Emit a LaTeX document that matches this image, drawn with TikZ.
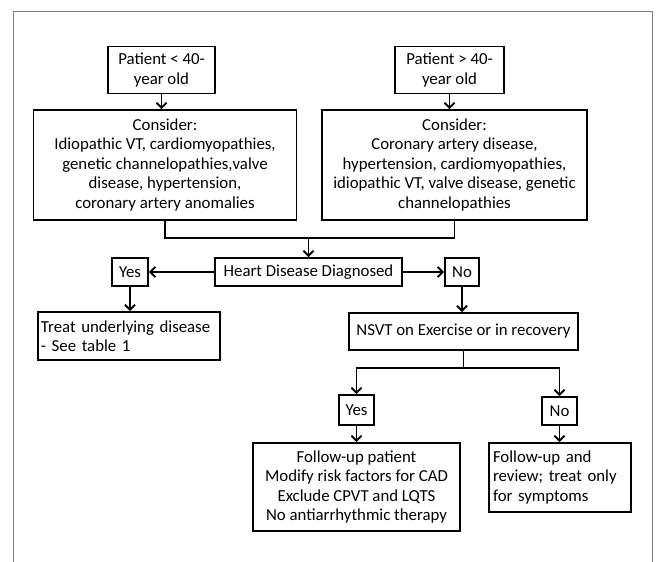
\documentclass[tikz,border=0pt]{standalone}
\usepackage{fontspec}
\setmainfont{Carlito}
\usepackage{tikz}
\usetikzlibrary{
  arrows.meta,
  positioning,
}
\definecolor{framegray}{HTML}{808080}

\begin{document}
\begin{tikzpicture}[
    x=1pt, y=-1pt,
    box/.style={draw=black, line width=1.9pt, inner sep=3pt,
                font=\fontsize{16.8}{19.5}\selectfont, align=center},
    arr/.style={draw=black, line width=1.9pt,
                -{Straight Barb[length=5pt,width=10pt,line width=1.9pt]}},
    conn/.style={draw=black, line width=1.9pt},
  ]
  \useasboundingbox (0,0) rectangle (657,562);
  \draw[framegray, line width=0.9pt] (13,562) -- (13,11) -- (652,11) -- (652,562);

  % age groups
  \node[box, minimum width=107pt, minimum height=47pt] (pyoung) at (161.5,70)
    {Patient < 40-\\year old};
  \node[box, minimum width=109pt, minimum height=47pt] (pold) at (449.5,70)
    {Patient > 40-\\year old};
  \node[box, minimum width=263pt, minimum height=110pt] (cyoung) at (165,165)
    {Consider:\\Idiopathic VT, cardiomyopathies,\\genetic channelopathies,valve\\disease, hypertension,\\coronary artery anomalies};
  \node[box, minimum width=265pt, minimum height=110pt] (cold) at (454.5,165)
    {Consider:\\Coronary artery disease,\\hypertension, cardiomyopathies,\\idiopathic VT, valve disease, genetic\\channelopathies};

  % diagnosis
  \node[box, minimum width=187pt, minimum height=28pt] (diag) at (308.5,272)
    {Heart Disease Diagnosed};
  \node[box, minimum width=36pt, minimum height=28pt] (dyes) at (130,272) {Yes};
  \node[box, minimum width=34pt, minimum height=28pt] (dno) at (462,272) {No};
  \node[box, minimum width=182pt, minimum height=48pt, text width=176pt, align=left]
    (treat) at (129,336) {Treat underlying disease\\- See table 1};
  \node[box, minimum width=229pt, minimum height=37pt] (nsvt) at (463.5,331.5)
    {NSVT on Exercise or in recovery};

  % exercise outcome
  \node[box, minimum width=35pt, minimum height=30pt] (syes) at (356.5,410) {Yes};
  \node[box, minimum width=35pt, minimum height=28pt] (sno) at (559.5,411) {No};
  \node[box, minimum width=207pt, minimum height=88pt] (fup) at (356.5,487)
    {Follow-up patient\\Modify risk factors for CAD\\Exclude CPVT and LQTS\\No antiarrhythmic therapy};
  \node[box, minimum width=142pt, minimum height=69pt, text width=134pt, align=left]
    (rev) at (560,477.5) {Follow-up and\\review; treat only\\for symptoms};

  \coordinate (join) at (308.5,238);
  \coordinate (split) at (463.5,368);

  \draw[arr] (pyoung.south) -- (pyoung.south |- cyoung.north);
  \draw[arr] (pold.south) -- (pold.south |- cold.north);
  \draw[conn] (cyoung.south) |- (join) -| (cold.south);
  \draw[arr] (join) -- (diag.north);
  \draw[arr] (diag.west) -- (dyes.east);
  \draw[arr] (diag.east) -- (dno.west);
  \draw[arr] (dyes.south) -- (dyes.south |- treat.north);
  \draw[arr] (dno.south) -- (dno.south |- nsvt.north);
  \draw[conn] (nsvt.south) -- (split);
  \draw[arr] (split) -| (syes.north);
  \draw[arr] (split) -| (sno.north);
  \draw[arr] (syes.south) -- (fup.north);
  \draw[arr] (sno.south) -- (sno.south |- rev.north);
\end{tikzpicture}
\end{document}
